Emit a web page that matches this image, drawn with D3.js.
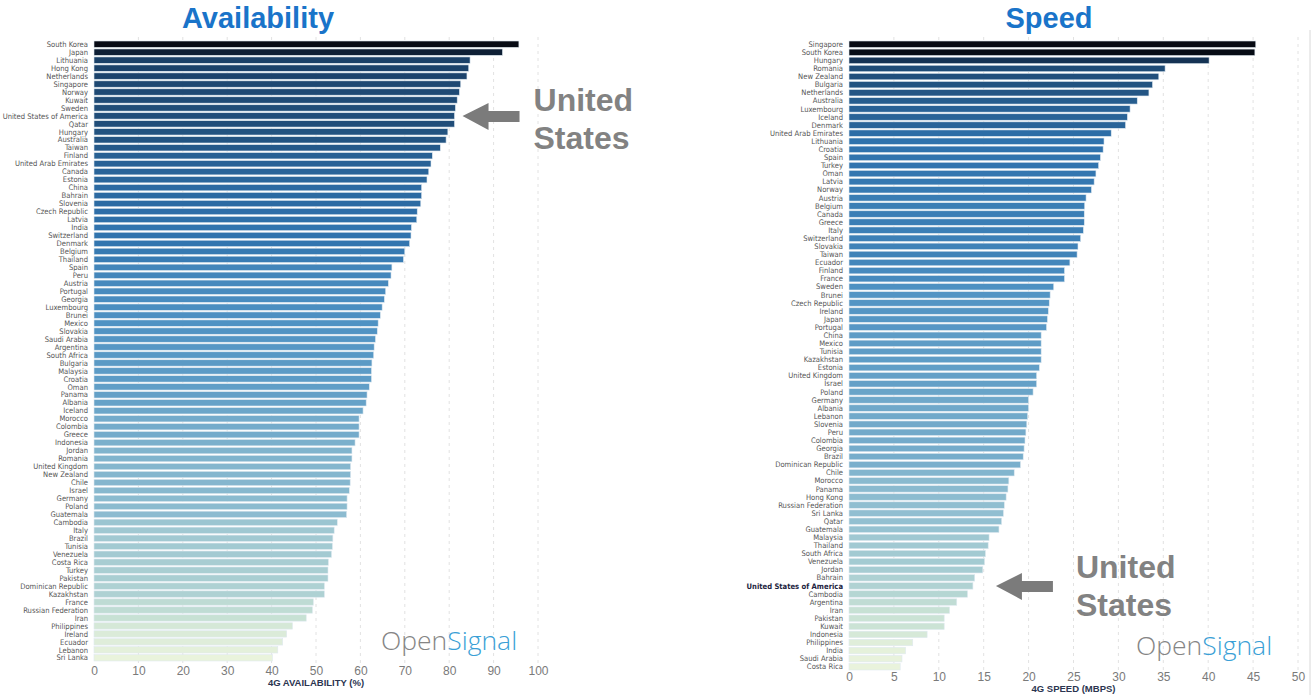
<!DOCTYPE html>
<html>
<head>
<meta charset="utf-8">
<script src="https://cdn.jsdelivr.net/npm/d3@7"></script>
<style>
  body { margin: 0; background: #fff; }
  svg { display: block; }
</style>
</head>
<body>
<script>
// 4G availability (%) by country, sorted
var availCountries = ["South Korea","Japan","Lithuania","Hong Kong","Netherlands","Singapore","Norway","Kuwait","Sweden","United States of America","Qatar","Hungary","Australia","Taiwan","Finland","United Arab Emirates","Canada","Estonia","China","Bahrain","Slovenia","Czech Republic","Latvia","India","Switzerland","Denmark","Belgium","Thailand","Spain","Peru","Austria","Portugal","Georgia","Luxembourg","Brunei","Mexico","Slovakia","Saudi Arabia","Argentina","South Africa","Bulgaria","Malaysia","Croatia","Oman","Panama","Albania","Iceland","Morocco","Colombia","Greece","Indonesia","Jordan","Romania","United Kingdom","New Zealand","Chile","Israel","Germany","Poland","Guatemala","Cambodia","Italy","Brazil","Tunisia","Venezuela","Costa Rica","Turkey","Pakistan","Dominican Republic","Kazakhstan","France","Russian Federation","Iran","Philippines","Ireland","Ecuador","Lebanon","Sri Lanka"];
var availValues = [95.7,92.0,84.7,84.4,84.0,82.6,82.3,81.8,81.4,81.2,81.2,79.7,79.3,78.0,76.2,75.9,75.4,75.0,73.8,73.8,73.6,72.8,72.7,71.5,71.4,71.1,70.0,69.7,67.1,66.9,66.3,65.7,65.4,64.9,64.5,64.0,63.8,63.4,63.1,63.0,62.6,62.5,62.5,62.0,61.5,61.3,60.6,59.7,59.7,59.7,58.8,58.1,58.1,57.8,57.8,57.7,57.5,57.0,57.0,56.9,54.8,54.1,53.8,53.7,53.5,52.8,52.7,52.7,51.9,51.9,49.4,49.2,47.8,44.7,43.4,42.5,41.4,40.2];

// 4G speed (Mbps) by country, sorted
var speedCountries = ["Singapore","South Korea","Hungary","Romania","New Zealand","Bulgaria","Netherlands","Australia","Luxembourg","Iceland","Denmark","United Arab Emirates","Lithuania","Croatia","Spain","Turkey","Oman","Latvia","Norway","Austria","Belgium","Canada","Greece","Italy","Switzerland","Slovakia","Taiwan","Ecuador","Finland","France","Sweden","Brunei","Czech Republic","Ireland","Japan","Portugal","China","Mexico","Tunisia","Kazakhstan","Estonia","United Kingdom","Israel","Poland","Germany","Albania","Lebanon","Slovenia","Peru","Colombia","Georgia","Brazil","Dominican Republic","Chile","Morocco","Panama","Hong Kong","Russian Federation","Sri Lanka","Qatar","Guatemala","Malaysia","Thailand","South Africa","Venezuela","Jordan","Bahrain","United States of America","Cambodia","Argentina","Iran","Pakistan","Kuwait","Indonesia","Philippines","India","Saudi Arabia","Costa Rica"];
var speedValues = [45.3,45.2,40.1,35.2,34.5,33.8,33.4,32.1,31.3,31.0,30.8,29.2,28.4,28.3,28.0,27.8,27.5,27.3,27.0,26.4,26.25,26.2,26.2,26.1,25.8,25.5,25.4,24.6,24.0,24.0,22.8,22.4,22.3,22.2,22.1,22.0,21.4,21.4,21.4,21.4,21.2,20.9,20.9,20.5,20.0,20.0,19.9,19.8,19.7,19.6,19.5,19.4,19.1,18.4,17.8,17.7,17.5,17.3,17.2,17.0,16.7,15.6,15.5,15.2,15.1,14.9,14.0,13.8,13.2,12.0,11.2,10.6,10.6,8.7,7.1,6.3,5.9,5.7];

var availTicks = [0,10,20,30,40,50,60,70,80,90,100];
var speedTicks = [0,5,10,15,20,25,30,35,40,45,50];

var W = 1313, H = 695;
var svg = d3.select('body').append('svg')
    .attr('width', W)
    .attr('height', H);

var rampStops = ["#e9f3dc","#c6e0d4","#93c0d1","#4f92c3","#2f72ad","#22527f","#16365a","#070b14"];
var ramp = d3.scaleLinear()
    .domain(d3.range(rampStops.length).map(function(i){ return i / (rampStops.length - 1); }))
    .range(rampStops)
    .interpolate(d3.interpolateRgb);

function drawPanel(opt) {
    var g = svg.append('g');
    var x = d3.scaleLinear().domain(opt.domain).range([opt.x0, opt.x1]);
    var y = d3.scaleBand().domain(opt.names).range([opt.y0, opt.y1]).paddingInner(0.2);
    var lo = d3.min(opt.values), hi = d3.max(opt.values);

    // dashed grid
    g.selectAll('line.grid')
        .data(opt.ticks.slice(1))
        .enter().append('line')
        .attr('x1', function(d){ return x(d); })
        .attr('x2', function(d){ return x(d); })
        .attr('y1', opt.y0 - 4)
        .attr('y2', opt.y1 + 2)
        .style('stroke', '#e2e2e2')
        .style('stroke-width', 1)
        .style('stroke-dasharray', '3,4');

    // bars
    g.selectAll('rect.bar')
        .data(opt.values)
        .enter().append('rect')
        .attr('x', x(0))
        .attr('y', function(d, i){ return y(opt.names[i]); })
        .attr('width', function(d){ return x(d) - x(0); })
        .attr('height', y.bandwidth())
        .style('fill', function(d){ return ramp((d - lo) / (hi - lo)); })
        .style('stroke', '#dfe9f1')
        .style('stroke-width', 0.6);

    // country labels
    g.selectAll('text.name')
        .data(opt.names)
        .enter().append('text')
        .attr('x', x(0) - 6)
        .attr('y', function(d){ return y(d) + y.bandwidth() / 2; })
        .attr('dy', '0.35em')
        .attr('text-anchor', 'end')
        .style('font-family', '"Liberation Sans Narrow", "DejaVu Sans Condensed", sans-serif')
        .style('font-size', '7.6px')
        .style('fill', function(d){ return (opt.markUS && d === 'United States of America') ? '#1c2340' : '#555'; })
        .style('font-weight', function(d){ return (opt.markUS && d === 'United States of America') ? 'bold' : 'normal'; })
        .text(function(d){ return d; });

    // x axis
    var axis = d3.axisBottom(x).tickValues(opt.ticks).tickSize(0).tickPadding(0);
    var ag = g.append('g')
        .attr('transform', 'translate(0,' + opt.axisY + ')')
        .call(axis);
    ag.select('.domain').remove();
    ag.selectAll('text')
        .style('font-family', '"Liberation Sans", Arial, sans-serif')
        .style('font-size', '12px')
        .style('fill', '#7a7a7a');

    g.append('text')
        .attr('x', (opt.x0 + opt.x1) / 2)
        .attr('y', opt.axisY + 20)
        .attr('text-anchor', 'middle')
        .style('font-family', '"Liberation Sans", Arial, sans-serif')
        .style('font-weight', 'bold')
        .style('font-size', '9.5px')
        .style('fill', '#2b3550')
        .text(opt.axisTitle);

    // title
    g.append('text')
        .attr('x', opt.titleX)
        .attr('y', 28)
        .attr('text-anchor', 'middle')
        .style('font-family', '"Liberation Sans", Arial, sans-serif')
        .style('font-weight', 'bold')
        .style('font-size', '29px')
        .style('fill', '#1a74c9')
        .text(opt.title);

    // "United States" callout
    var us = 'United States of America';
    var ty = y(us) + y.bandwidth() / 2;
    var tip = x(opt.values[opt.names.indexOf(us)]) + opt.arrowGap;
    var arrow = d3.path();
    arrow.moveTo(tip, ty);
    arrow.lineTo(tip + 26, ty - 13);
    arrow.lineTo(tip + 26, ty - 5);
    arrow.lineTo(tip + 57, ty - 5);
    arrow.lineTo(tip + 57, ty + 6);
    arrow.lineTo(tip + 26, ty + 6);
    arrow.lineTo(tip + 26, ty + 14);
    arrow.closePath();
    g.append('path').attr('d', arrow.toString()).style('fill', '#7b7b7b');

    var tx = tip + opt.textGap;
    var lbl = g.append('text')
        .attr('x', tx)
        .attr('y', ty - 5 + opt.textDy)
        .style('font-family', '"Liberation Sans", Arial, sans-serif')
        .style('font-weight', 'bold')
        .style('font-size', '32px')
        .style('fill', '#828282');
    lbl.append('tspan').attr('x', tx).text('United');
    lbl.append('tspan').attr('x', tx).attr('dy', 38).text('States');

    // OpenSignal mark
    var logo = g.append('text')
        .attr('x', opt.logoX)
        .attr('y', opt.logoY)
        .style('font-family', '"Open Sans", "Noto Sans", sans-serif')
        .style('font-weight', 300)
        .style('font-size', '26.5px');
    logo.append('tspan').style('fill', '#858585').text('Open');
    logo.append('tspan').style('fill', '#3a9fd6').text('Signal');
}

drawPanel({
    names: availCountries, values: availValues, ticks: availTicks,
    domain: [0, 100], x0: 94, x1: 538, y0: 41, y1: 661,
    axisY: 666, axisTitle: '4G AVAILABILITY (%)',
    title: 'Availability', titleX: 258,
    arrowGap: 8, textGap: 71, textDy: 0, logoX: 381, logoY: 650
});

drawPanel({
    names: speedCountries, values: speedValues, ticks: speedTicks,
    domain: [0, 50], x0: 849, x1: 1298, y0: 41, y1: 670,
    axisY: 672, axisTitle: '4G SPEED (MBPS)',
    title: 'Speed', titleX: 1049,
    arrowGap: 23, textGap: 80, textDy: -3, logoX: 1136, logoY: 655, markUS: true
});

svg.append('line')
    .attr('x1', 1310).attr('x2', 1310)
    .attr('y1', 30).attr('y2', 695)
    .style('stroke', '#d8d8d8');
</script>
</body>
</html>
